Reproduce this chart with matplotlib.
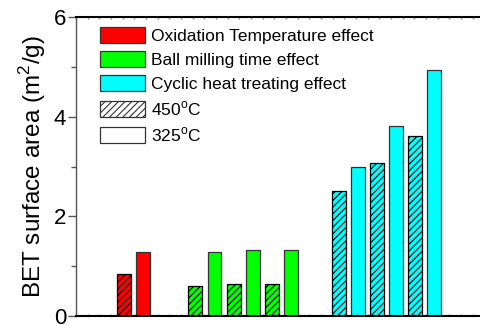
import matplotlib
matplotlib.use("Agg")
import matplotlib.pyplot as plt
import numpy as np
from matplotlib.patches import Patch
from matplotlib.ticker import MultipleLocator

# BET surface area (m2/g); bars alternate 450 C (hatched) / 325 C (plain)
oxidation = [0.85, 1.29]
ball_milling = [0.61, 1.285, 0.64, 1.325, 0.64, 1.32]
cyclic_heat = [2.50, 2.98, 3.08, 3.82, 3.61, 4.93]

series_labels = ["Oxidation Temperature effect", "Ball milling time effect",
                 "Cyclic heat treating effect"]
temp_labels = ["450$^{\\rm o}$C", "325$^{\\rm o}$C"]

plt.rcParams["font.family"] = ["Liberation Sans", "DejaVu Sans"]
plt.rcParams["hatch.linewidth"] = 0.8
plt.rcParams["mathtext.fontset"] = "custom"
plt.rcParams["mathtext.rm"] = "Liberation Sans"

fig = plt.figure(figsize=(4.8, 3.25), dpi=100)
ax = fig.add_axes([76 / 480, 9 / 325, 404 / 480, 299 / 325])

groups = [
    (oxidation, 2.5, "#FF0000"),
    (ball_milling, 6.25, "#00FF00"),
    (cyclic_heat, 13.75, "#00FFFF"),
]
width = 0.73
for values, start, color in groups:
    x = start + np.arange(len(values))
    for i, (xi, v) in enumerate(zip(x, values)):
        hatched = i % 2 == 0
        ax.bar(xi, v, width=width, color=color,
               edgecolor="black" if hatched else "#333333",
               linewidth=0.9, hatch="/////" if hatched else None)

ax.set_xlim(0, 21.15)
ax.set_ylim(0, 6)
ax.yaxis.set_major_locator(MultipleLocator(2))
ax.yaxis.set_minor_locator(MultipleLocator(1))
ax.xaxis.set_major_locator(MultipleLocator(0.611))
ax.set_xticklabels([])
ax.tick_params(axis="x", which="major", direction="in", length=1.5,
               width=1.0, color="#888888", top=True, bottom=True)
ax.tick_params(axis="y", which="major", direction="out", length=6,
               width=1.0, color="#555555", labelsize=16, pad=1)
ax.tick_params(axis="y", which="minor", direction="out", length=3.5,
               width=1.0, color="#555555")
ax.tick_params(axis="y", right=False)

ax.spines["right"].set_visible(False)
ax.spines["left"].set_color("#555555")
ax.spines["left"].set_linewidth(1.0)
ax.spines["bottom"].set_linewidth(1.5)
ax.spines["top"].set_linewidth(1.5)

ax.set_ylabel("BET surface area (m$^2$/g)", fontsize=17.5, labelpad=4)

handles = [
    Patch(facecolor="#FF0000", edgecolor="#333333", linewidth=0.9),
    Patch(facecolor="#00FF00", edgecolor="#333333", linewidth=0.9),
    Patch(facecolor="#00FFFF", edgecolor="#333333", linewidth=0.9),
    Patch(facecolor="white", edgecolor="#333333", linewidth=0.9, hatch="/////"),
    Patch(facecolor="white", edgecolor="#333333", linewidth=0.9),
]
ax.legend(handles, series_labels + temp_labels, loc="upper left",
          bbox_to_anchor=(0.059, 0.965), frameon=False, fontsize=12.5,
          handlelength=2.6, handleheight=1.0, handletextpad=0.35,
          labelspacing=0.42, borderpad=0, borderaxespad=0)

fig.savefig("out.png", dpi=100)
